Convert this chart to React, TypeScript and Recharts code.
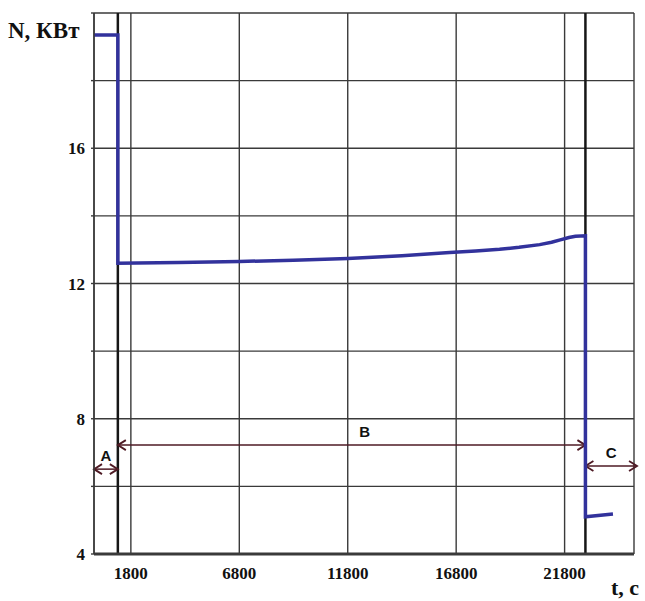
import {
  LineChart,
  Line,
  XAxis,
  YAxis,
  CartesianGrid,
  ReferenceLine,
} from 'recharts'

// time, s
const timeValues = [
  100, 1200, 1200, 4000, 6800, 9300, 11800, 14300, 16500, 17700, 18800, 19700,
  20650, 21200, 21600, 22000, 22300, 22760, 22760, 24030,
]
// power, kW
const powerValues = [
  19.35, 19.35, 12.6, 12.62, 12.65, 12.69, 12.74, 12.82, 12.92, 12.96, 13.01,
  13.07, 13.15, 13.22, 13.29, 13.36, 13.4, 13.41, 5.1, 5.18,
]

const xTicks = [100, 1800, 6800, 11800, 16800, 21800, 25000]
const xLabelled = [1800, 6800, 11800, 16800, 21800]
const yTicks = [4, 6, 8, 10, 12, 14, 16, 18, 20]
const yLabelled = [4, 8, 12, 16]

// stage boundaries (s)
const stageEdges = [1200, 22760]

// stage arrows: [label, from t, to t, level N, label shift px]
const stages: [string, number, number, number, number][] = [
  ['A', 100, 1200, 6.51, 0],
  ['B', 1200, 22760, 7.22, 13],
  ['C', 22760, 25140, 6.6, 0],
]

const rows = timeValues.map((t, i) => ({ t, n: powerValues[i] }))

const serif = '"Liberation Serif", "Times New Roman", serif'
const arrowColor = '#4e1a24'

function StageArrow(p: any) {
  const { x1, y1, x2, label, shift } = p
  const y = y1
  const h = 8
  const w = 5
  return (
    <g>
      <line x1={x1} y1={y} x2={x2} y2={y} stroke={arrowColor} strokeWidth={1.5} />
      <polyline
        points={`${x1 + h},${y - w} ${x1},${y} ${x1 + h},${y + w}`}
        fill="none"
        stroke={arrowColor}
        strokeWidth={1.8}
      />
      <polyline
        points={`${x2 - h},${y - w} ${x2},${y} ${x2 - h},${y + w}`}
        fill="none"
        stroke={arrowColor}
        strokeWidth={1.8}
      />
      <text
        x={(x1 + x2) / 2 + shift}
        y={y - 8}
        textAnchor="middle"
        fontFamily='"Liberation Sans", Arial, sans-serif'
        fontWeight="bold"
        fontSize={15}
        fill="#111"
      >
        {label}
      </text>
    </g>
  )
}

export default function App() {
  return (
    <div style={{ position: 'absolute', left: 0, top: 0, background: '#fff' }}>
      <LineChart
        width={645}
        height={601}
        data={rows}
        margin={{ top: 13, right: 11, bottom: 17, left: 34 }}
      >
        <CartesianGrid stroke="#3a3a3a" strokeWidth={1.4} />
        <XAxis
          dataKey="t"
          type="number"
          domain={[100, 25000]}
          ticks={xTicks}
          interval={0}
          height={30}
          tickSize={0}
          tickMargin={13}
          tickLine={false}
          axisLine={{ stroke: '#3a3a3a', strokeWidth: 3 }}
          tickFormatter={(v: number) => (xLabelled.includes(v) ? String(v) : '')}
          tick={{ fontFamily: serif, fontWeight: 'bold', fontSize: 17, fill: '#111' }}
          label={{
            content: ({ viewBox }: any) => (
              <text
                x={viewBox.x + viewBox.width + 5}
                y={viewBox.y + 41}
                textAnchor="end"
                fontFamily={serif}
                fontWeight="bold"
                fontSize={22}
                fill="#111"
              >
                t, c
              </text>
            ),
          }}
        />
        <YAxis
          type="number"
          domain={[4, 20]}
          ticks={yTicks}
          interval={0}
          width={60}
          tickSize={3}
          tickMargin={6}
          tickLine={{ stroke: '#3a3a3a', strokeWidth: 1.4 }}
          axisLine={{ stroke: '#3a3a3a', strokeWidth: 1.5 }}
          tickFormatter={(v: number) => (yLabelled.includes(v) ? String(v) : '')}
          tick={{ fontFamily: serif, fontWeight: 'bold', fontSize: 17, fill: '#111' }}
          label={{
            content: ({ viewBox }: any) => (
              <text
                x={viewBox.x - 26}
                y={viewBox.y + 25}
                fontFamily={serif}
                fontWeight="bold"
                fontSize={23}
                fill="#111"
              >
                N, КВт
              </text>
            ),
          }}
        />
        {stageEdges.map((t) => (
          <ReferenceLine key={t} x={t} stroke="#161616" strokeWidth={2.5} />
        ))}
        {stages.map(([label, from, to, level, shift]) => (
          <ReferenceLine
            key={label}
            segment={[
              { x: from, y: level },
              { x: to, y: level },
            ]}
            ifOverflow="visible"
            shape={(p: any) => <StageArrow {...p} label={label} shift={shift} />}
          />
        ))}
        <Line
          type="linear"
          dataKey="n"
          stroke="#32329c"
          strokeWidth={3.5}
          dot={false}
          activeDot={false}
          isAnimationActive={false}
        />
      </LineChart>
    </div>
  )
}
